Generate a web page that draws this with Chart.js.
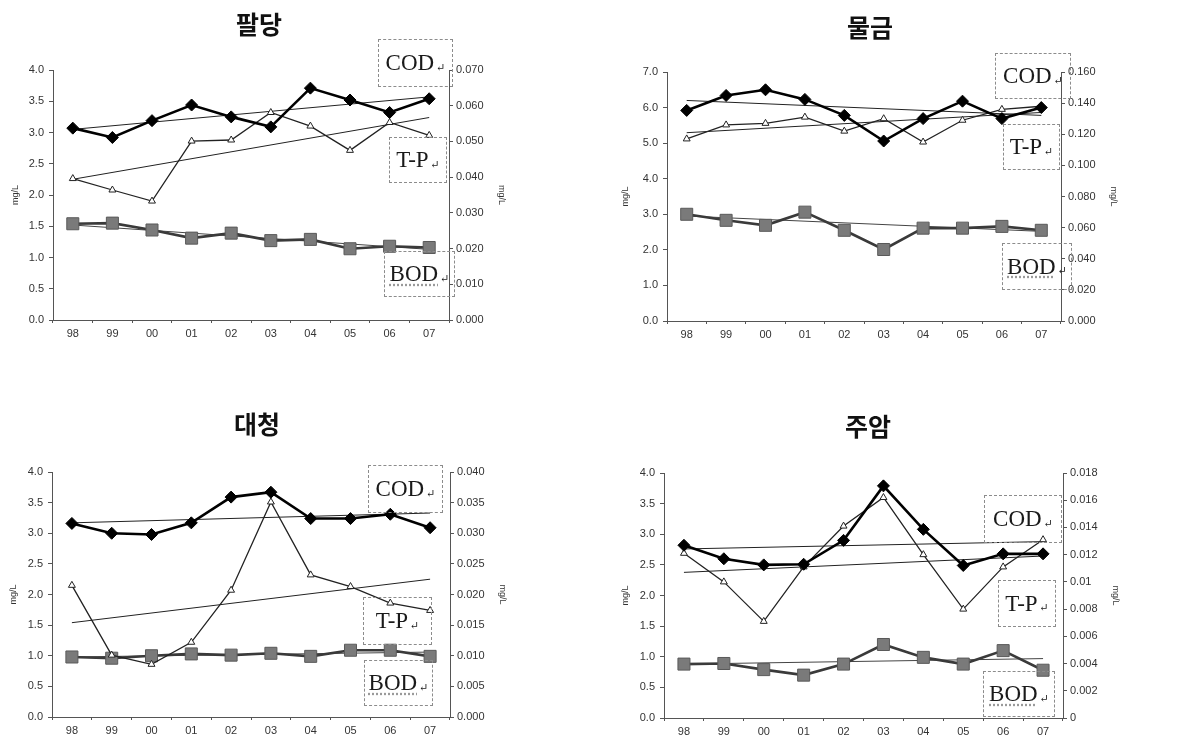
<!DOCTYPE html>
<html lang="ko">
<head>
<meta charset="utf-8">
<title>수질 항목별 추이</title>
<script src="https://cdn.jsdelivr.net/npm/chart.js@4.4.1/dist/chart.umd.min.js"></script>
<style>
  body { margin: 0; background: #fff; width: 1201px; height: 745px; overflow: hidden; position: relative; }
  .panel { position: absolute; width: 600px; height: 345px; }
  .title { position: absolute; font-family: "Noto Sans CJK KR", sans-serif; font-weight: bold; font-size: 25px; color: #111; transform: translate(-50%, -50%); white-space: nowrap; }
  .tag { position: absolute; box-sizing: border-box; border: 1px dashed #8c8c8c; display: flex; align-items: center; justify-content: center;
         font-family: "Liberation Serif", "DejaVu Serif", serif; font-size: 23px; color: #1a1a1a; }
  .tag .ret { font-size: 11px; margin-left: 2px; margin-top: 8px; }
  .tag.bod span.t { text-decoration: underline dotted #9a9a9a; text-underline-offset: 3px; }
</style>
</head>
<body>
<div class="panel" style="left:0;top:0"><canvas id="c1"></canvas></div>
<div class="panel" style="left:600px;top:0"><canvas id="c2"></canvas></div>
<div class="panel" style="left:0;top:400px"><canvas id="c3"></canvas></div>
<div class="panel" style="left:600px;top:400px"><canvas id="c4"></canvas></div>

<script>
// 연도 (x축)
const years = ['98', '99', '00', '01', '02', '03', '04', '05', '06', '07'];

// 팔당
const paldangCOD = [3.07, 2.92, 3.19, 3.44, 3.25, 3.09, 3.71, 3.52, 3.32, 3.54];
const paldangTP  = [0.0396, 0.0364, 0.0333, 0.0501, 0.0504, 0.0581, 0.0543, 0.0475, 0.0553, 0.0517];
const paldangBOD = [1.54, 1.55, 1.44, 1.31, 1.39, 1.27, 1.29, 1.14, 1.18, 1.16];
const paldangCODTrend = [3.05, 3.57];
const paldangTPTrend  = [0.0394, 0.0567];
const paldangBODTrend = [1.52, 1.13];
const paldangLeftTicks  = ['0.0', '0.5', '1.0', '1.5', '2.0', '2.5', '3.0', '3.5', '4.0'];
const paldangRightTicks = ['0.000', '0.010', '0.020', '0.030', '0.040', '0.050', '0.060', '0.070'];

// 물금
const mulgeumCOD = [5.92, 6.34, 6.50, 6.23, 5.78, 5.06, 5.69, 6.18, 5.69, 6.00];
const mulgeumTP  = [0.117, 0.126, 0.127, 0.131, 0.122, 0.130, 0.115, 0.129, 0.136, 0.138];
const mulgeumBOD = [3.00, 2.83, 2.69, 3.06, 2.55, 2.01, 2.61, 2.61, 2.66, 2.55];
const mulgeumCODTrend = [6.20, 5.78];
const mulgeumTPTrend  = [0.121, 0.134];
const mulgeumBODTrend = [2.95, 2.52];
const mulgeumLeftTicks  = ['0.0', '1.0', '2.0', '3.0', '4.0', '5.0', '6.0', '7.0'];
const mulgeumRightTicks = ['0.000', '0.020', '0.040', '0.060', '0.080', '0.100', '0.120', '0.140', '0.160'];

// 대청
const daecheongCOD = [3.16, 3.00, 2.98, 3.17, 3.59, 3.67, 3.24, 3.24, 3.31, 3.09];
const daecheongTP  = [0.0215, 0.0101, 0.0086, 0.0122, 0.0207, 0.0351, 0.0232, 0.0213, 0.0186, 0.0174];
const daecheongBOD = [0.98, 0.96, 1.00, 1.03, 1.01, 1.04, 0.99, 1.09, 1.09, 0.99];
const daecheongCODTrend = [3.17, 3.33];
const daecheongTPTrend  = [0.0154, 0.0225];
const daecheongBODTrend = [0.98, 1.06];
const daecheongLeftTicks  = ['0.0', '0.5', '1.0', '1.5', '2.0', '2.5', '3.0', '3.5', '4.0'];
const daecheongRightTicks = ['0.000', '0.005', '0.010', '0.015', '0.020', '0.025', '0.030', '0.035', '0.040'];

// 주암
const juamCOD = [2.82, 2.60, 2.50, 2.51, 2.90, 3.79, 3.08, 2.49, 2.68, 2.68];
const juamTP  = [0.0121, 0.0100, 0.0071, 0.0111, 0.0141, 0.0162, 0.0120, 0.0080, 0.0111, 0.0131];
const juamBOD = [0.88, 0.89, 0.79, 0.70, 0.88, 1.20, 0.99, 0.88, 1.10, 0.78];
const juamCODTrend = [2.76, 2.88];
const juamTPTrend  = [0.0107, 0.0119];
const juamBODTrend = [0.88, 0.97];
const juamLeftTicks  = ['0.0', '0.5', '1.0', '1.5', '2.0', '2.5', '3.0', '3.5', '4.0'];
const juamRightTicks = ['0', '0.002', '0.004', '0.006', '0.008', '0.01', '0.012', '0.014', '0.016', '0.018'];

// 패널별 배치 (캔버스 안에서의 plot 영역, 라벨 상자 위치)
const panels = [
  { id: 'c1', x: 0, y: 0, name: '팔당', titleX: 259, titleY: 23, area: [53, 449, 70, 320], yTitle: 10,
    cod: paldangCOD, tp: paldangTP, bod: paldangBOD, codT: paldangCODTrend, tpT: paldangTPTrend, bodT: paldangBODTrend,
    leftTicks: paldangLeftTicks, rightTicks: paldangRightTicks,
    tags: [[378, 39, 75, 48], [389, 137, 58, 46], [384, 251, 71, 46]] },
  { id: 'c2', x: 600, y: 0, name: '물금', titleX: 270, titleY: 26, area: [67, 461, 72, 321], yTitle: 20,
    cod: mulgeumCOD, tp: mulgeumTP, bod: mulgeumBOD, codT: mulgeumCODTrend, tpT: mulgeumTPTrend, bodT: mulgeumBODTrend,
    leftTicks: mulgeumLeftTicks, rightTicks: mulgeumRightTicks,
    tags: [[395, 53, 76, 46], [403, 124, 57, 46], [402, 243, 70, 47]] },
  { id: 'c3', x: 0, y: 400, name: '대청', titleX: 257, titleY: 23, area: [52, 450, 72, 317], yTitle: 8,
    cod: daecheongCOD, tp: daecheongTP, bod: daecheongBOD, codT: daecheongCODTrend, tpT: daecheongTPTrend, bodT: daecheongBODTrend,
    leftTicks: daecheongLeftTicks, rightTicks: daecheongRightTicks,
    tags: [[368, 65, 75, 48], [363, 197, 69, 48], [364, 260, 69, 46]] },
  { id: 'c4', x: 600, y: 400, name: '주암', titleX: 268, titleY: 25, area: [64, 463, 73, 318], yTitle: 20,
    cod: juamCOD, tp: juamTP, bod: juamBOD, codT: juamCODTrend, tpT: juamTPTrend, bodT: juamBODTrend,
    leftTicks: juamLeftTicks, rightTicks: juamRightTicks,
    tags: [[384, 95, 78, 48], [398, 180, 58, 47], [383, 271, 72, 46]] }
];

const tickFont = { family: 'Liberation Sans, Arial, sans-serif', size: 11 };
const axisColor = '#555';

function trendPoints(t) {
  return [{ x: years[0], y: t[0] }, { x: years[years.length - 1], y: t[1] }];
}

// 눈금 값과 글자는 배열에서 그대로
function fixedTicks(labels) {
  return scale => { scale.ticks = labels.map(l => ({ value: Number(l) })); };
}

function addText(p) {
  const t = document.createElement('div');
  t.className = 'title';
  t.textContent = p.name;
  t.style.left = (p.x + p.titleX) + 'px';
  t.style.top = (p.y + p.titleY) + 'px';
  document.body.appendChild(t);

  ['COD', 'T-P', 'BOD'].forEach((name, i) => {
    const [l, tp, w, h] = p.tags[i];
    const box = document.createElement('div');
    box.className = 'tag' + (name === 'BOD' ? ' bod' : '');
    box.style.left = (p.x + l) + 'px';
    box.style.top = (p.y + tp) + 'px';
    box.style.width = w + 'px';
    box.style.height = h + 'px';
    box.innerHTML = '<span class="t">' + name + '</span><span class="ret">↵</span>';
    document.body.appendChild(box);
  });
}

function drawPanel(p) {
  const [left, right, top, bottom] = p.area;
  const rightWidth = 60;
  const xHeight = 22;
  const leftMax = Number(p.leftTicks[p.leftTicks.length - 1]);
  const rightMax = Number(p.rightTicks[p.rightTicks.length - 1]);

  const ctx = document.getElementById(p.id).getContext('2d');
  new Chart(ctx, {
    type: 'line',
    data: {
      labels: years,
      datasets: [
        {
          label: 'COD', data: p.cod, yAxisID: 'y',
          borderColor: '#000', backgroundColor: '#000', borderWidth: 2.6,
          pointStyle: 'rectRot', pointRadius: 6, pointBorderWidth: 1, tension: 0
        },
        {
          label: 'T-P', data: p.tp, yAxisID: 'y1',
          borderColor: '#222', backgroundColor: '#fff', borderWidth: 1.3,
          pointStyle: 'triangle', pointRadius: 4, pointBorderWidth: 1, tension: 0
        },
        {
          label: 'BOD', data: p.bod, yAxisID: 'y',
          borderColor: '#3a3a3a', backgroundColor: '#7a7a7a', borderWidth: 2.6,
          pointStyle: 'rect', pointRadius: 8.5, pointBorderColor: '#5a5a5a', pointBorderWidth: 1, tension: 0
        },
        { label: 'COD 추세', data: trendPoints(p.codT), yAxisID: 'y', borderColor: '#222', borderWidth: 1, pointRadius: 0 },
        { label: 'T-P 추세', data: trendPoints(p.tpT), yAxisID: 'y1', borderColor: '#222', borderWidth: 1, pointRadius: 0 },
        { label: 'BOD 추세', data: trendPoints(p.bodT), yAxisID: 'y', borderColor: '#444', borderWidth: 1, pointRadius: 0 }
      ]
    },
    options: {
      responsive: false,
      animation: false,
      devicePixelRatio: 1,
      layout: { padding: { top: top, left: 0, right: 600 - right - rightWidth, bottom: 345 - bottom - xHeight } },
      plugins: { legend: { display: false }, tooltip: { enabled: false }, title: { display: false } },
      scales: {
        x: {
          type: 'category', offset: true,
          grid: { display: true, drawOnChartArea: false, offset: true, tickLength: 3, color: axisColor },
          border: { display: true, color: axisColor, width: 1 },
          ticks: { font: tickFont, color: '#333', padding: 4, maxRotation: 0, autoSkip: false },
          afterFit: s => { s.height = xHeight; }
        },
        y: {
          position: 'left', min: 0, max: leftMax,
          afterBuildTicks: fixedTicks(p.leftTicks),
          grid: { display: true, drawOnChartArea: false, tickLength: 4, color: axisColor },
          border: { display: true, color: axisColor, width: 1 },
          ticks: { font: tickFont, color: '#333', padding: 5, callback: (v, i) => p.leftTicks[i] },
          title: { display: true, text: 'mg/L', font: { family: 'Liberation Sans, Arial, sans-serif', size: 9 }, color: '#333',
                   padding: { top: p.yTitle, bottom: 0 } },
          afterFit: s => { s.width = left; }
        },
        y1: {
          position: 'right', min: 0, max: rightMax,
          afterBuildTicks: fixedTicks(p.rightTicks),
          grid: { display: true, drawOnChartArea: false, tickLength: 4, color: axisColor },
          border: { display: true, color: axisColor, width: 1 },
          ticks: { font: tickFont, color: '#333', padding: 3, callback: (v, i) => p.rightTicks[i] },
          title: { display: true, text: 'mg/L', font: { family: 'Liberation Sans, Arial, sans-serif', size: 9 }, color: '#333',
                   padding: { top: 2, bottom: 0 } },
          afterFit: s => { s.width = rightWidth; }
        }
      }
    }
  });
}

panels.forEach(p => {
  const c = document.getElementById(p.id);
  c.width = 600;
  c.height = 345;
  c.style.width = '600px';
  c.style.height = '345px';
  drawPanel(p);
  addText(p);
});
</script>
</body>
</html>
